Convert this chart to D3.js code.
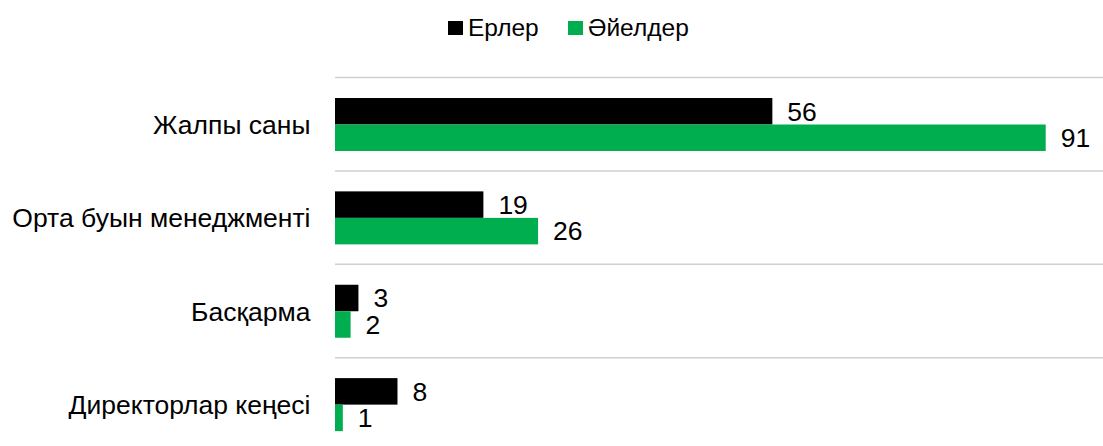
<!DOCTYPE html>
<html>
<head>
<meta charset="utf-8">
<script src="https://cdn.jsdelivr.net/npm/d3@7"></script>
<style>
  html, body { margin: 0; padding: 0; background: #fff; }
  svg { display: block; font-family: "Liberation Sans", Arial, sans-serif; }
</style>
</head>
<body>
<svg id="chart" width="1103" height="446"></svg>
<script>
const categories = ["Жалпы саны", "Орта буын менеджменті", "Басқарма", "Директорлар кеңесі"];
const seriesNames = ["Ерлер", "Әйелдер"];
const men = [56, 19, 3, 8];
const women = [91, 26, 2, 1];
const colors = ["#000000", "#00ad4f"];

const W = 1103, H = 446;
const svg = d3.select("#chart");

const x = d3.scaleLinear().domain([0, 100]).range([335, 335 + 781]);
const y = d3.scaleBand().domain(categories).range([77.5, 451]).paddingInner(0).paddingOuter(0);
const y1 = d3.scaleBand().domain(seriesNames).range([20.5, 73.5]);

const data = categories.map((c, i) => ({ cat: c, vals: [men[i], women[i]] }));

// gridlines at band tops
svg.append("g").selectAll("line").data(categories).join("line")
  .attr("x1", x(0)).attr("x2", W)
  .attr("y1", d => y(d)).attr("y2", d => y(d))
  .attr("stroke", "#d0d0d0").attr("stroke-width", 1.5);

const groups = svg.append("g").selectAll("g").data(data).join("g")
  .attr("transform", d => `translate(0,${y(d.cat)})`);

groups.selectAll("rect").data(d => d.vals.map((v, j) => ({ v, s: seriesNames[j], j }))).join("rect")
  .attr("x", x(0))
  .attr("y", d => y1(d.s))
  .attr("width", d => x(d.v) - x(0))
  .attr("height", y1.bandwidth())
  .attr("fill", d => colors[d.j]);

groups.selectAll("text").data(d => d.vals.map((v, j) => ({ v, s: seriesNames[j], j }))).join("text")
  .attr("x", d => x(d.v) + 15)
  .attr("y", d => y1(d.s) + y1.bandwidth() / 2)
  .attr("dy", "0.35em")
  .attr("font-size", 26.5)
  .attr("fill", "#000")
  .text(d => d.v);

// category axis
const yAxis = d3.axisLeft(y).tickSize(0).tickPadding(24.5);
const ax = svg.append("g").attr("transform", `translate(${x(0)},0)`).call(yAxis);
ax.select(".domain").remove();
ax.selectAll("text").attr("font-size", 26.5).attr("fill", "#000")
  .attr("font-family", "'Liberation Sans', Arial, sans-serif")
  .attr("dy", "0.37em");

// legend
const legend = svg.append("g");
const legendItems = [{ name: seriesNames[0], c: colors[0], x: 448 }, { name: seriesNames[1], c: colors[1], x: 568 }];
legendItems.forEach(it => {
  legend.append("rect").attr("x", it.x).attr("y", 21).attr("width", 15).attr("height", 14).attr("fill", it.c);
  legend.append("text").attr("x", it.x + 20).attr("y", 27.5).attr("dy", "0.35em")
    .attr("font-size", 24.5).attr("fill", "#000").text(it.name);
});
</script>
</body>
</html>
